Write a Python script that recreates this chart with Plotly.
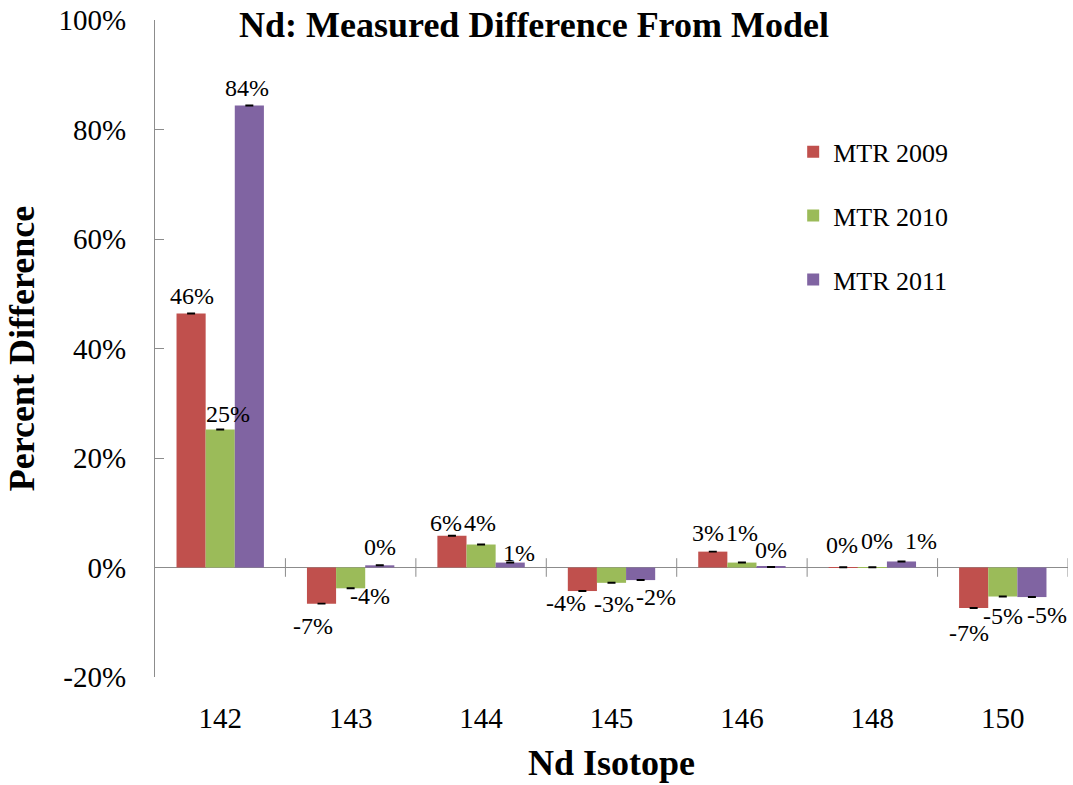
import plotly.graph_objects as go

# Nd isotopes and measured-vs-model percent differences (as fractions)
isotopes = ["142", "143", "144", "145", "146", "148", "150"]
mtr_2009 = [0.464, -0.066, 0.058, -0.043, 0.029, 0.0005, -0.074]
mtr_2010 = [0.252, -0.038, 0.042, -0.028, 0.009, 0.0005, -0.053]
mtr_2011 = [0.844, 0.004, 0.009, -0.023, 0.001, 0.011, -0.054]
# uncertainties (very small)
err_2009 = [0.0004] * 7
err_2010 = [0.0004] * 7
err_2011 = [0.0004] * 7

y_tick_vals = [-0.2, 0.0, 0.2, 0.4, 0.6, 0.8, 1.0]
y_tick_text = ["-20%", "0%", "20%", "40%", "60%", "80%", "100%"]

# label nudges in pixels (horizontal, vertical-down) so neighbouring labels stay legible
label_dx = {
    "MTR 2009": [1, -9, -6, -16, -5, -1, -5],
    "MTR 2010": [8, 19, -1, 2, 0, 5, 0],
    "MTR 2011": [-2, 0, 9, 15, 0, 20, 15],
}
label_dy = {
    "MTR 2009": [-17, 22, -13, 12, -19, -22, 25],
    "MTR 2010": [-16, 8, -22, 21, -30, -26, 19],
    "MTR 2011": [-17, -18, -10, 17, -17, -20, 18],
}

series = [
    ("MTR 2009", mtr_2009, err_2009, "#C0504D"),
    ("MTR 2010", mtr_2010, err_2010, "#9BBB59"),
    ("MTR 2011", mtr_2011, err_2011, "#8064A2"),
]

FONT = "Liberation Serif, Times New Roman, serif"
W, H = 1073, 785
ML, MR, MT, MB = 155, 5, 20, 108
BARGAP = 0.33
AXIS_GREY = "#8c8c8c"

# pixel width of one bar, used to place each value label over its own bar
cat_px = (W - ML - MR) / len(isotopes)
bar_px = cat_px * (1 - BARGAP) / len(series)

fig = go.Figure()
annotations = []
for i, (name, vals, errs, color) in enumerate(series):
    fig.add_trace(go.Bar(
        name=name,
        x=isotopes,
        y=vals,
        marker=dict(color=color, line=dict(width=0)),
        error_y=dict(type="data", array=errs, visible=True,
                     color="black", thickness=1.5, width=4),
        legendgroup=f"g{i}",
    ))
    offset = (i - (len(series) - 1) / 2) * bar_px
    for k, v in enumerate(vals):
        # category index k is the centre of that isotope's bar group
        annotations.append(dict(
            x=k, y=v, xref="x", yref="y",
            text=f"{round(v * 100):.0f}%",
            showarrow=False, xanchor="center", yanchor="middle",
            xshift=offset + label_dx[name][k],
            yshift=-label_dy[name][k],
            font=dict(family=FONT, size=24, color="black"),
        ))

# category boundary tick marks crossing the zero line
shapes = []
for k in range(len(isotopes)):
    shapes.append(dict(type="line", xref="x", yref="y",
                       x0=k + 0.5, x1=k + 0.5, y0=-0.017, y1=0.017,
                       line=dict(color=AXIS_GREY, width=1)))

fig.update_layout(
    width=W, height=H,
    margin=dict(l=ML, r=MR, t=MT, b=MB),
    paper_bgcolor="white", plot_bgcolor="white",
    barmode="group", bargap=BARGAP, bargroupgap=0,
    font=dict(family=FONT, color="black"),
    title=dict(text="<b>Nd: Measured Difference From Model</b>",
               x=534 / W, y=1 - 24 / H, xanchor="center", yanchor="middle",
               font=dict(family=FONT, size=36, color="black")),
    legend=dict(x=0.699, y=0.835, xanchor="left", yanchor="top",
                font=dict(family=FONT, size=26, color="black"),
                tracegroupgap=27, itemwidth=30, bgcolor="rgba(0,0,0,0)"),
    showlegend=True,
    annotations=annotations,
    shapes=shapes,
)

fig.update_yaxes(
    range=[-0.2, 1.0], tickvals=y_tick_vals, ticktext=y_tick_text,
    showgrid=False, showline=True, linecolor=AXIS_GREY, linewidth=1,
    ticks="inside", ticklen=9, tickcolor=AXIS_GREY,
    zeroline=True, zerolinecolor=AXIS_GREY, zerolinewidth=1,
    tickfont=dict(family=FONT, size=29, color="black"),
    ticklabelstandoff=22,
    title=dict(text="<b>Percent Difference</b>", standoff=12,
               font=dict(family=FONT, size=36, color="black")),
)
fig.update_xaxes(
    type="category", categoryorder="array", categoryarray=isotopes,
    range=[-0.5, len(isotopes) - 0.5],
    showgrid=False, showline=False, ticks="",
    tickfont=dict(family=FONT, size=29, color="black"),
    ticklabelstandoff=21,
    title=dict(text="<b>Nd Isotope</b>", standoff=16,
               font=dict(family=FONT, size=36, color="black")),
)

fig.write_html("out.html")
